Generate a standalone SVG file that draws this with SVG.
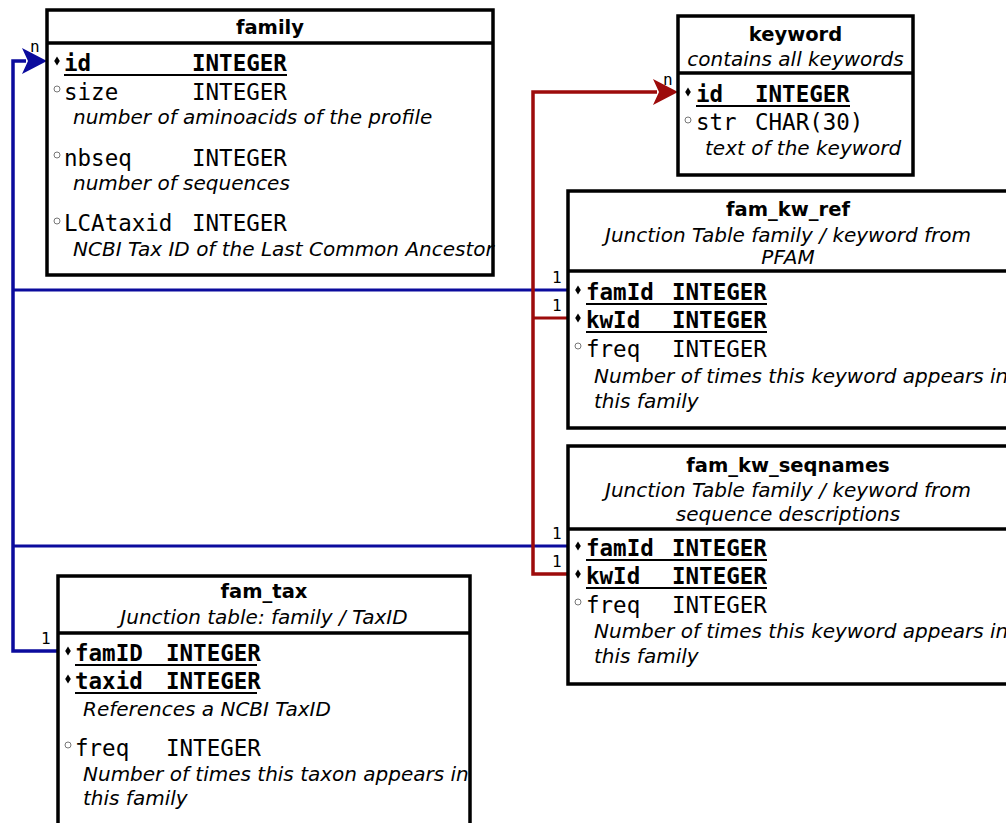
<svg xmlns="http://www.w3.org/2000/svg" width="1006" height="823" viewBox="0 0 1006 823">
<style>
.box{fill:#fff;stroke:#000;stroke-width:3.5}
.sep{stroke:#000;stroke-width:3.5}
.title{font-family:"DejaVu Sans",sans-serif;font-weight:bold;font-size:19.5px;text-anchor:middle;fill:#000}
.sub{font-family:"DejaVu Sans",sans-serif;font-style:italic;font-size:20px;text-anchor:middle;fill:#000}
.desc{font-family:"DejaVu Sans",sans-serif;font-style:italic;font-size:20px;fill:#000}
.mono{font-family:"DejaVu Sans Mono",monospace;font-size:22.5px;fill:#000}
.pk{font-family:"DejaVu Sans Mono",monospace;font-size:22.5px;font-weight:bold;fill:#000}
.ul{stroke:#000;stroke-width:2}
.lbl{font-family:"DejaVu Sans Mono",monospace;font-size:16px;fill:#000}
.blue{fill:none;stroke:#0b0b9d;stroke-width:3.5}
.blue2{fill:none;stroke:#0b0b9d;stroke-width:3}
.red{fill:none;stroke:#9d0b0b;stroke-width:3.5}
.red2{fill:none;stroke:#9d0b0b;stroke-width:3}
.circ{fill:#fff;stroke:#777;stroke-width:1}
</style>
<defs>
<path id="dia" d="M0,-4.5 L2.8,0 L0,4.5 L-2.8,0 Z" fill="#000"/>
<circle id="cir" r="3" class="circ"/>
</defs>

<g id="connectors">
<path class="blue" d="M58,651 H13 V61 H26"/>
<polygon points="47,61 22,48 28,61 22,74" fill="#0b0b9d"/>
<path class="blue2" d="M13,290 H568"/>
<path class="blue2" d="M13,546 H568"/>
<path class="red" d="M568,574 H533 V92 H657"/>
<polygon points="678,92 653,79 659,92 653,105" fill="#9d0b0b"/>
<path class="red2" d="M533,318 H568"/>
<text class="lbl" x="30" y="52">n</text>
<text class="lbl" x="663" y="85">n</text>
<text class="lbl" x="552" y="283">1</text>
<text class="lbl" x="552" y="311">1</text>
<text class="lbl" x="552" y="539">1</text>
<text class="lbl" x="552" y="567">1</text>
<text class="lbl" x="41" y="644">1</text>
</g>

<g id="family">
<rect class="box" x="47" y="10" width="446" height="265"/>
<line class="sep" x1="47" y1="43" x2="493" y2="43"/>
<text class="title" x="270" y="34">family</text>
<use href="#dia" x="57" y="61"/>
<text class="pk" x="64" y="71">id</text>
<text class="pk" x="192" y="71">INTEGER</text>
<line class="ul" x1="64" y1="75" x2="287" y2="75"/>
<use href="#cir" x="57" y="89"/>
<text class="mono" x="64" y="100">size</text>
<text class="mono" x="192" y="100">INTEGER</text>
<text class="desc" x="73" y="124">number of aminoacids of the profile</text>
<use href="#cir" x="57" y="155"/>
<text class="mono" x="64" y="166">nbseq</text>
<text class="mono" x="192" y="166">INTEGER</text>
<text class="desc" x="73" y="190">number of sequences</text>
<use href="#cir" x="57" y="221"/>
<text class="mono" x="64" y="231">LCAtaxid</text>
<text class="mono" x="192" y="231">INTEGER</text>
<text class="desc" x="73" y="256">NCBI Tax ID of the Last Common Ancestor</text>
</g>

<g id="keyword">
<rect class="box" x="678" y="16" width="235" height="159"/>
<line class="sep" x1="678" y1="73" x2="913" y2="73"/>
<text class="title" x="795.5" y="41">keyword</text>
<text class="sub" x="795.5" y="66">contains all keywords</text>
<use href="#dia" x="688" y="92"/>
<text class="pk" x="696" y="102">id</text>
<text class="pk" x="755" y="102">INTEGER</text>
<line class="ul" x1="696" y1="106" x2="850" y2="106"/>
<use href="#cir" x="688" y="120"/>
<text class="mono" x="696" y="130">str</text>
<text class="mono" x="755" y="130">CHAR(30)</text>
<text class="desc" x="705" y="155">text of the keyword</text>
</g>

<g id="fam_kw_ref">
<rect class="box" x="568" y="191" width="440" height="237"/>
<line class="sep" x1="568" y1="271" x2="1008" y2="271"/>
<text class="title" x="788" y="216">fam_kw_ref</text>
<text class="sub" x="788" y="242">Junction Table family / keyword from</text>
<text class="sub" x="788" y="264">PFAM</text>
<use href="#dia" x="578" y="290"/>
<text class="pk" x="586" y="300">famId</text>
<text class="pk" x="672" y="300">INTEGER</text>
<line class="ul" x1="586" y1="304" x2="767" y2="304"/>
<use href="#dia" x="578" y="318"/>
<text class="pk" x="586" y="328">kwId</text>
<text class="pk" x="672" y="328">INTEGER</text>
<line class="ul" x1="586" y1="332" x2="767" y2="332"/>
<use href="#cir" x="578" y="346"/>
<text class="mono" x="586" y="357">freq</text>
<text class="mono" x="672" y="357">INTEGER</text>
<text class="desc" x="594" y="383">Number of times this keyword appears in</text>
<text class="desc" x="594" y="408">this family</text>
</g>

<g id="fam_kw_seqnames">
<rect class="box" x="568" y="446" width="440" height="238"/>
<line class="sep" x1="568" y1="529" x2="1008" y2="529"/>
<text class="title" x="788" y="472">fam_kw_seqnames</text>
<text class="sub" x="788" y="497">Junction Table family / keyword from</text>
<text class="sub" x="788" y="521">sequence descriptions</text>
<use href="#dia" x="578" y="546"/>
<text class="pk" x="586" y="556">famId</text>
<text class="pk" x="672" y="556">INTEGER</text>
<line class="ul" x1="586" y1="560" x2="767" y2="560"/>
<use href="#dia" x="578" y="574"/>
<text class="pk" x="586" y="584">kwId</text>
<text class="pk" x="672" y="584">INTEGER</text>
<line class="ul" x1="586" y1="588" x2="767" y2="588"/>
<use href="#cir" x="578" y="602"/>
<text class="mono" x="586" y="613">freq</text>
<text class="mono" x="672" y="613">INTEGER</text>
<text class="desc" x="594" y="638">Number of times this keyword appears in</text>
<text class="desc" x="594" y="663">this family</text>
</g>

<g id="fam_tax">
<rect class="box" x="58" y="576" width="412" height="270"/>
<line class="sep" x1="58" y1="633" x2="470" y2="633"/>
<text class="title" x="264" y="598">fam_tax</text>
<text class="sub" x="264" y="624">Junction table: family / TaxID</text>
<use href="#dia" x="68" y="651"/>
<text class="pk" x="75" y="661">famID</text>
<text class="pk" x="166" y="661">INTEGER</text>
<line class="ul" x1="75" y1="665" x2="257" y2="665"/>
<use href="#dia" x="68" y="679"/>
<text class="pk" x="75" y="689">taxid</text>
<text class="pk" x="166" y="689">INTEGER</text>
<line class="ul" x1="75" y1="693" x2="257" y2="693"/>
<text class="desc" x="83" y="716">References a NCBI TaxID</text>
<use href="#cir" x="68" y="745"/>
<text class="mono" x="75" y="756">freq</text>
<text class="mono" x="166" y="756">INTEGER</text>
<text class="desc" x="83" y="781">Number of times this taxon appears in</text>
<text class="desc" x="83" y="805">this family</text>
</g>
</svg>
